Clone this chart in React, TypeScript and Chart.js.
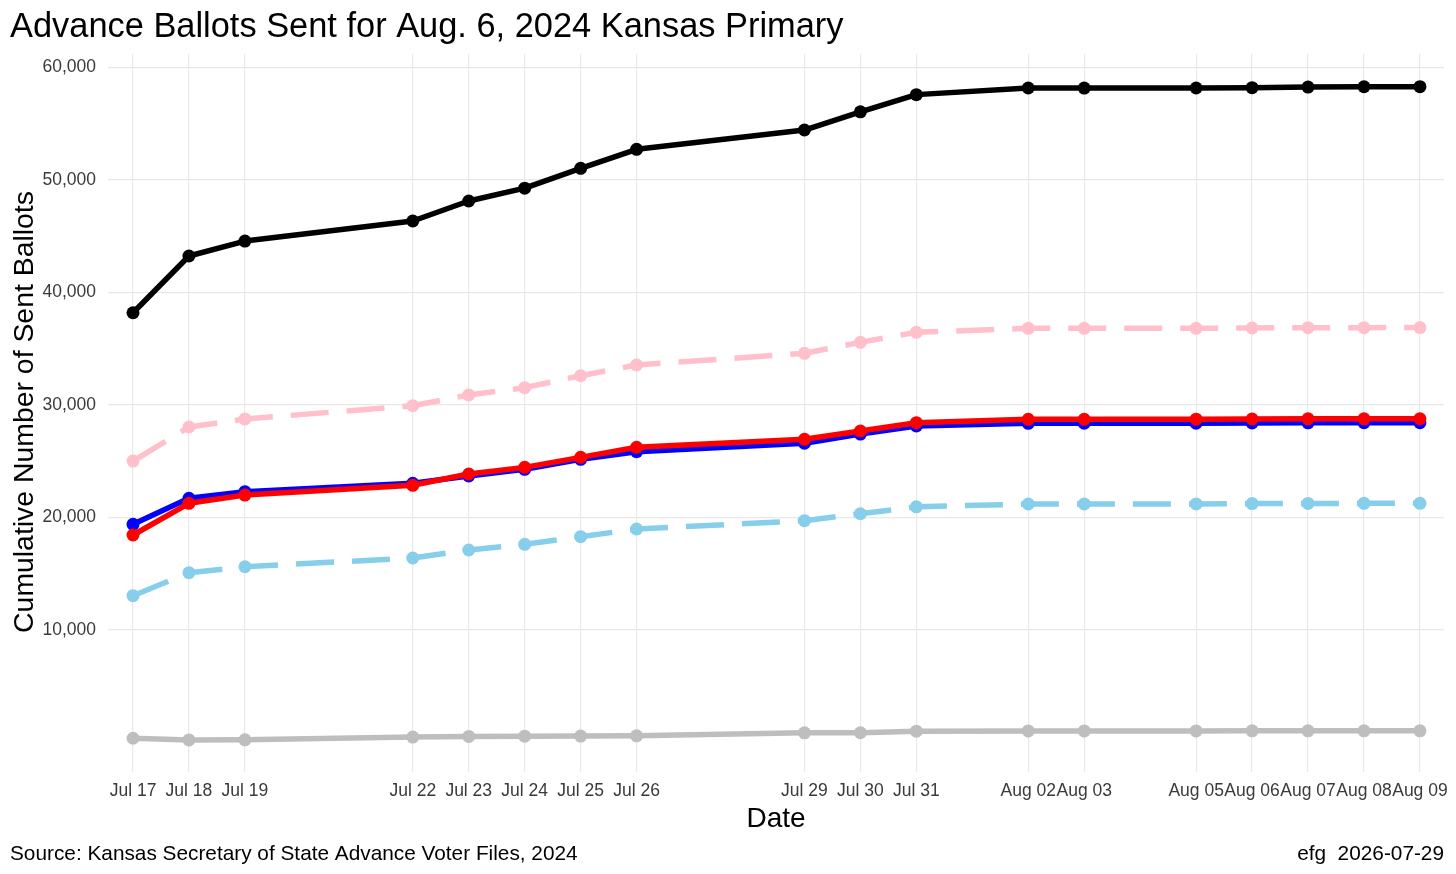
import React, { useEffect, useRef } from 'react';
import { Chart, registerables } from 'chart.js';

Chart.register(...registerables);

const dates = ['2024-07-17', '2024-07-18', '2024-07-19', '2024-07-22', '2024-07-23', '2024-07-24', '2024-07-25', '2024-07-26', '2024-07-29', '2024-07-30', '2024-07-31', '2024-08-02', '2024-08-03', '2024-08-05', '2024-08-06', '2024-08-07', '2024-08-08', '2024-08-09'];
const dateLabels = ['Jul 17', 'Jul 18', 'Jul 19', 'Jul 22', 'Jul 23', 'Jul 24', 'Jul 25', 'Jul 26', 'Jul 29', 'Jul 30', 'Jul 31', 'Aug 02', 'Aug 03', 'Aug 05', 'Aug 06', 'Aug 07', 'Aug 08', 'Aug 09'];

const totalSent = [38190, 43230, 44560, 46340, 48120, 49260, 51020, 52710, 54425, 56040, 57570, 58160, 58155, 58160, 58190, 58245, 58270, 58280];
const pinkSeries = [25010, 28035, 28745, 29930, 30880, 31530, 32595, 33545, 34585, 35560, 36450, 36805, 36805, 36805, 36835, 36860, 36865, 36870];
const redSeries = [18440, 21255, 21990, 22855, 23860, 24450, 25340, 26230, 26940, 27680, 28420, 28720, 28725, 28730, 28745, 28760, 28765, 28770];
const blueSeries = [19390, 21700, 22290, 23030, 23680, 24275, 25165, 25840, 26590, 27410, 28125, 28365, 28370, 28375, 28390, 28405, 28415, 28420];
const skySeries = [13045, 15090, 15620, 16395, 17105, 17610, 18290, 18970, 19710, 20330, 20940, 21195, 21200, 21205, 21230, 21245, 21250, 21255];
const graySeries = [380, 230, 240, 480, 540, 560, 570, 590, 860, 870, 1010, 1030, 1030, 1030, 1035, 1040, 1040, 1040];

const yTickValues = [10000, 20000, 30000, 40000, 50000, 60000];

const titleText = 'Advance Ballots Sent for Aug. 6, 2024 Kansas Primary';
const yTitleText = 'Cumulative Number of Sent Ballots';
const xTitleText = 'Date';
const captionLeft = 'Source: Kansas Secretary of State Advance Voter Files, 2024';
const captionRight = 'efg  2026-07-29';

const FONT = '"Liberation Sans", Arial, Helvetica, sans-serif';
const DAY = 86400000;
const dayOffsets = dates.map((d) => (Date.parse(d) - Date.parse(dates[0])) / DAY);

function toPoints(values: number[]) {
  return values.map((v, i) => ({ x: dayOffsets[i], y: v }));
}

const textPlugin = {
  id: 'ggTexts',
  afterDraw(chart: any) {
    const ctx = chart.ctx as CanvasRenderingContext2D;
    const area = chart.chartArea;
    ctx.save();
    ctx.fillStyle = '#000000';
    ctx.textBaseline = 'alphabetic';

    ctx.font = `34.4px ${FONT}`;
    ctx.textAlign = 'left';
    ctx.fillText(titleText, 10, 37);

    ctx.font = `28px ${FONT}`;
    ctx.textAlign = 'center';
    ctx.fillText(xTitleText, (area.left + area.right) / 2, 827);

    ctx.save();
    ctx.font = `28.4px ${FONT}`;
    ctx.translate(33, 412);
    ctx.rotate(-Math.PI / 2);
    ctx.textAlign = 'center';
    ctx.fillText(yTitleText, 0, 0);
    ctx.restore();

    ctx.font = `20.8px ${FONT}`;
    ctx.textAlign = 'left';
    ctx.fillText(captionLeft, 10, 860);
    ctx.textAlign = 'right';
    ctx.fillText(captionRight, 1444, 860);
    ctx.restore();
  },
};

function makeDataset(label: string, values: number[], color: string, dashed: boolean) {
  return {
    label,
    data: toPoints(values),
    borderColor: color,
    backgroundColor: color,
    pointBackgroundColor: color,
    pointBorderColor: color,
    pointBorderWidth: 0,
    pointRadius: 6.5,
    pointHoverRadius: 6.5,
    borderWidth: 5.5,
    borderDash: dashed ? [38, 18] : [],
    borderCapStyle: 'butt' as const,
    borderJoinStyle: 'round' as const,
    tension: 0,
    fill: false,
  };
}

export default function App() {
  const canvasRef = useRef<HTMLCanvasElement | null>(null);

  useEffect(() => {
    document.body.style.margin = '0';
    const canvas = canvasRef.current;
    if (!canvas) return;
    const chart = new Chart(canvas, {
      type: 'line',
      data: {
        datasets: [
          makeDataset('Total', totalSent, '#000000', false),
          makeDataset('Pink', pinkSeries, '#FFC0CB', true),
          makeDataset('Red', redSeries, '#FF0000', false),
          makeDataset('Blue', blueSeries, '#0000FF', false),
          makeDataset('Sky', skySeries, '#87CEEB', true),
          makeDataset('Gray', graySeries, '#BEBEBE', false),
        ],
      },
      options: {
        animation: false,
        responsive: false,
        devicePixelRatio: 1,
        events: [],
        layout: { padding: { top: 54, left: 0, right: 12, bottom: 0 } },
        plugins: {
          legend: { display: false },
          tooltip: { enabled: false },
          title: { display: false },
        },
        scales: {
          x: {
            type: 'linear',
            min: -0.447,
            max: 23.43,
            afterBuildTicks: (scale: any) => {
              scale.ticks = dayOffsets.map((v) => ({ value: v }));
            },
            afterFit: (scale: any) => {
              scale.height = 102;
              scale.paddingLeft = 0;
              scale.paddingRight = 0;
            },
            grid: { color: '#E8E8E8', lineWidth: 1.2, drawTicks: false },
            border: { display: false },
            ticks: {
              autoSkip: false,
              maxRotation: 0,
              minRotation: 0,
              padding: 9,
              color: '#3A3A3A',
              font: { family: FONT, size: 17.5 },
              callback: (_v: any, i: number) => dateLabels[i],
            },
          },
          y: {
            type: 'linear',
            min: -2620,
            max: 61180,
            afterBuildTicks: (scale: any) => {
              scale.ticks = yTickValues.map((v) => ({ value: v }));
            },
            afterFit: (scale: any) => {
              scale.width = 108;
              scale.paddingTop = 0;
              scale.paddingBottom = 0;
            },
            grid: { color: '#E8E8E8', lineWidth: 1.2, drawTicks: false },
            border: { display: false },
            ticks: {
              padding: 12,
              color: '#3A3A3A',
              font: { family: FONT, size: 17.5 },
              callback: (v: any) => Number(v).toLocaleString('en-US'),
            },
          },
        },
      } as any,
      plugins: [textPlugin],
    });
    return () => chart.destroy();
  }, []);

  return (
    <div style={{ position: 'absolute', left: 0, top: 0, width: 1456, height: 874, background: '#fff' }}>
      <canvas ref={canvasRef} width={1456} height={874} style={{ width: 1456, height: 874, display: 'block' }} />
    </div>
  );
}
